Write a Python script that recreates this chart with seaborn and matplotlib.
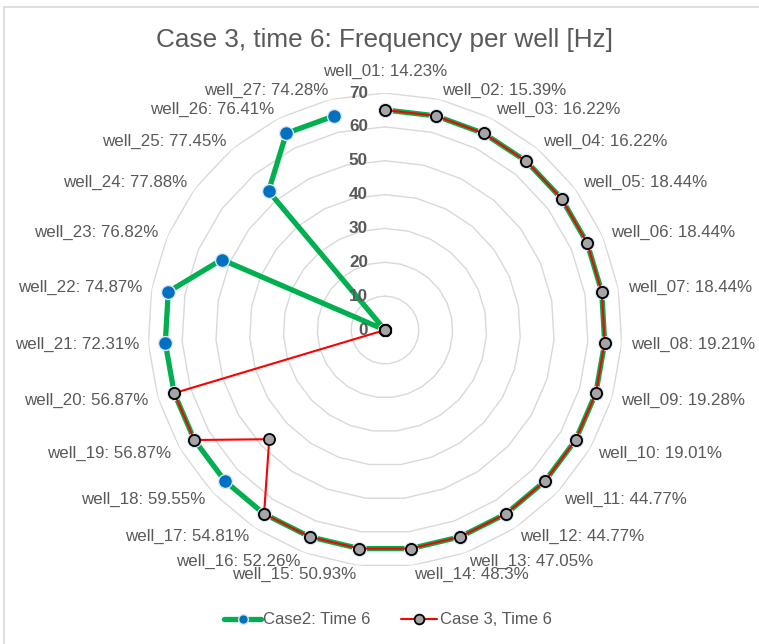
import numpy as np
import pandas as pd
import seaborn as sns
import matplotlib
matplotlib.use("Agg")
import matplotlib.pyplot as plt
from matplotlib.lines import Line2D
from matplotlib.transforms import offset_copy

# Wells and their share labels
wells = [f"well_{i:02d}" for i in range(1, 28)]
shares = [14.23, 15.39, 16.22, 16.22, 18.44, 18.44, 18.44, 19.21, 19.28, 19.01,
          44.77, 44.77, 47.05, 48.3, 50.93, 52.26, 54.81, 59.55, 56.87, 56.87,
          72.31, 74.87, 76.82, 77.88, 77.45, 76.41, 74.28]

# Frequency per well [Hz]
case2_time6 = [65, 65, 65, 65, 65, 65, 65, 65, 65, 65,
               65, 65, 65, 65, 65, 65, 65, 65, 65, 65,
               65, 65, 52.5, 0, 53.5, 65, 65]
case3_time6 = [65, 65, 65, 65, 65, 65, 65, 65, 65, 65,
               65, 65, 65, 65, 65, 65, 65, 47, 65, 65,
               0, 0, 0, 0, 0, 0, 0]

r_ticks = [0, 10, 20, 30, 40, 50, 60, 70]

sns.set_theme(style="white")
plt.rcParams["font.family"] = ["Liberation Sans", "DejaVu Sans"]

TXT = "#595959"
GRID = "#D9D9D9"

n = len(wells)
theta = np.arange(n) * 2 * np.pi / n
theta_closed = np.append(theta, theta[0])

df = pd.DataFrame({
    "theta": np.concatenate([theta_closed, theta_closed]),
    "value": np.concatenate([np.append(case2_time6, case2_time6[0]),
                             np.append(case3_time6, case3_time6[0])]),
    "series": ["Case2: Time 6"] * (n + 1) + ["Case 3, Time 6"] * (n + 1),
})

fig = plt.figure(figsize=(7.59, 6.44), dpi=100)
ax = fig.add_axes([148 / 759, 77 / 644, 474 / 759, 474 / 644], projection="polar")
ax.set_theta_zero_location("N")
ax.set_theta_direction(-1)
ax.set_ylim(0, r_ticks[-1])
ax.grid(False)
ax.spines["polar"].set_visible(False)
ax.set_xticks([])
ax.set_yticks([])
ax.set_facecolor("white")

# Polygonal grid rings
for r in r_ticks[1:]:
    ax.plot(theta_closed, [r] * (n + 1), color=GRID, lw=1.0, zorder=1)

c2 = df[df["series"] == "Case2: Time 6"]
c3 = df[df["series"] == "Case 3, Time 6"]
sns.lineplot(data=c2, x="theta", y="value", sort=False, ax=ax, color="#00B050",
             lw=3.8, marker="o", markersize=10, markerfacecolor="#0070C0",
             markeredgecolor="#DCE6F2", markeredgewidth=1.0, zorder=3, legend=False)
sns.lineplot(data=c3, x="theta", y="value", sort=False, ax=ax, color="#FF0000",
             lw=1.5, marker="o", markersize=8, markerfacecolor="#A5A5A5",
             markeredgecolor="black", markeredgewidth=1.3, zorder=4, legend=False)
ax.set_xlabel("")
ax.set_ylabel("")

# Category labels around the chart
for t, w, s in zip(theta, wells, shares):
    sx = np.sin(t)
    if abs(sx) < 0.05:
        ha, va, rr = "center", "bottom", 74.0
    else:
        ha, va, rr = ("left" if sx > 0 else "right"), "center", 72.8
    ax.text(t, rr, f"{w}: {s:g}%", ha=ha, va=va, fontsize=12.2,
            color=TXT, clip_on=False)

# Radial tick labels along the top spoke
tr = offset_copy(ax.transData, fig=fig, x=-17, y=0, units="dots")
for r in r_ticks:
    ax.text(0, r, f"{r}", transform=tr, ha="right", va="center",
            fontsize=12.3, fontweight="bold", color=TXT)

fig.text(385 / 759, 1 - 40 / 644, "Case 3, time 6: Frequency per well [Hz]",
         ha="center", va="center", fontsize=18.8, color=TXT)

handles = [
    Line2D([], [], color="#00B050", lw=3.8, marker="o", markersize=7,
           markerfacecolor="#0070C0", markeredgecolor="#DCE6F2"),
    Line2D([], [], color="#FF0000", lw=1.5, marker="o", markersize=7,
           markerfacecolor="#A5A5A5", markeredgecolor="black", markeredgewidth=1.3),
]
fig.legend(handles, ["Case2: Time 6", "Case 3, Time 6"], loc="center",
           bbox_to_anchor=(388 / 759, 1 - 620 / 644), ncol=2, frameon=False,
           fontsize=12.0, labelcolor=TXT, handlelength=2.2, handletextpad=0.15,
           columnspacing=1.8)

# Chart frame
fig.add_artist(Line2D([4 / 759, 1], [1 - 7 / 644, 1 - 7 / 644], color=GRID,
                      lw=1.2, transform=fig.transFigure))
fig.add_artist(Line2D([4 / 759, 4 / 759], [0, 1 - 7 / 644], color=GRID,
                      lw=1.2, transform=fig.transFigure))

fig.savefig("out.png", dpi=100, facecolor="white")
